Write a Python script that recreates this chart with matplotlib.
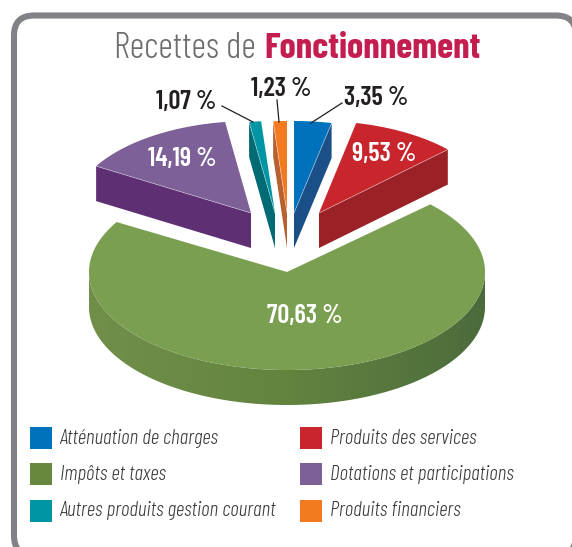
import numpy as np
import matplotlib
matplotlib.use("Agg")
import matplotlib.pyplot as plt
from matplotlib.patches import FancyBboxPatch, Polygon, Rectangle
from matplotlib.colors import LinearSegmentedColormap

plt.rcParams['font.family'] = ['Barlow Condensed', 'Roboto Condensed', 'Liberation Sans', 'DejaVu Sans']

# valeurs du camembert, dans le sens horaire depuis le haut
categories = ["Atténuation de charges", "Produits des services", "Impôts et taxes",
              "Dotations et participations", "Autres produits gestion courant", "Produits financiers"]
values = [3.35, 9.53, 70.63, 14.19, 1.07, 1.23]
value_labels = ["3,35 %", "9,53 %", "70,63 %", "14,19 %", "1,07 %", "1,23 %"]

top_colors = ["#0071BC", "#C9252C", "#7A9F50", "#7D6098", "#0095A5", "#F47A20"]
side_colors = ["#1B4F87", "#9A2227", None, "#5E2F73", "#006A75", "#B8602F"]
legend_colors = ["#0071BC", "#C9252C", "#688840", "#7D6098", "#0095A5", "#F47A20"]

# sommet de chaque part en pixels (parts eclatees) et rayons
apex = [(294, 213), (319, 213), (287, 272), (251, 213), (275, 213), (287, 213)]
radii = [(180, 92), (178, 92), (198, 98), (180, 92), (180, 92), (180, 92)]
depth = 35
# arete radiale qui porte le flanc visible : 0 debut, 1 fin
side_edge = [1, 1, None, 0, 0, 0]

fig = plt.figure(figsize=(5.72, 5.47), dpi=100)
ax = fig.add_axes([0, 0, 1, 1])

frame = FancyBboxPatch((14, 15.5), 562, 540, boxstyle="round,pad=0,rounding_size=20",
                       fc="white", ec="#808285", lw=4.4)
ax.add_patch(frame)


def rim(a, b, i):
    t = np.radians(np.linspace(a, b, max(int(abs(b - a) * 2), 2)))
    cx, cy = apex[i]
    rx, ry = radii[i]
    return np.column_stack([cx + rx * np.sin(t), cy - ry * np.cos(t)])


cuts = np.concatenate([[0], np.cumsum(values)]) / sum(values) * 360

for i in range(len(values)):
    a, b = cuts[i], cuts[i + 1]
    arc = rim(a, b, i)
    tip = np.array(apex[i], dtype=float)
    shift = np.array([0, depth])

    if side_edge[i] is not None:
        corner = arc[-1] if side_edge[i] == 1 else arc[0]
        ax.add_patch(Polygon([tip, corner, corner + shift, tip + shift],
                             fc=side_colors[i], ec="none", zorder=3))
    else:
        # flanc avant de la grosse part, en degrade
        front = rim(90, 270, i)
        wall = Polygon(np.vstack([front, (front + shift)[::-1]]), fc="none", ec="none", zorder=3)
        ax.add_patch(wall)
        cmap = LinearSegmentedColormap.from_list("wall", ["#728F4A", "#62843F", "#4C6B3C"])
        im = ax.imshow(np.linspace(0, 1, 256)[None, :], cmap=cmap, aspect="auto", zorder=3,
                       extent=(front[:, 0].min(), front[:, 0].max(), 420, 260))
        im.set_clip_path(wall)

    ax.add_patch(Polygon(np.vstack([tip, arc]), fc=top_colors[i], ec="none", zorder=4))
    if side_edge[i] is not None:
        corner = arc[-1] if side_edge[i] == 1 else arc[0]
        ax.plot([tip[0], corner[0]], [tip[1], corner[1]], color="white", lw=0.5, alpha=0.5, zorder=5)

ax.text(114, 57.5, "Recettes de", fontsize=26, fontweight=300, color="#6D6E71",
        ha="left", va="baseline", zorder=6)
ax.text(264.5, 57.5, "Fonctionnement", fontsize=26.5, color="#C41E50", fontweight="bold",
        ha="left", va="baseline", zorder=6)

# etiquettes : centre en pixels, dans l'ordre des valeurs
label_pos = [(376, 98), (384, 154), (305, 316), (182, 159), (186, 102), (281, 89)]
label_cols = ["#231F20", "white", "white", "white", "#231F20", "#231F20"]
for txt, pos, col in zip(value_labels, label_pos, label_cols):
    ax.text(pos[0], pos[1], txt, fontsize=19, color=col, fontweight=600, ha="center", va="center", zorder=7)

leaders = [((342, 103), (311, 123)), ((222, 106), (253, 122)), ((277, 100), (279, 122))]
for p, q in leaders:
    ax.plot([p[0], q[0]], [p[1], q[1]], color="#231F20", lw=0.9, zorder=6)

# legende
legend_x = [30, 300]
legend_y = [427, 463, 500]
for i, name in enumerate(categories):
    col = i % 2
    row = i // 2
    ax.add_patch(Rectangle((legend_x[col], legend_y[row]), 22, 22, fc=legend_colors[i], ec="none", zorder=6))
    ax.text(legend_x[col] + 29.5, legend_y[row] + 11, name, fontsize=15.2, style="italic", fontweight=300,
            color="#3A3A3C", ha="left", va="center", zorder=6)

ax.set_xlim(0, 572)
ax.set_ylim(547, 0)
ax.axis("off")

fig.savefig("out.png", dpi=100)
